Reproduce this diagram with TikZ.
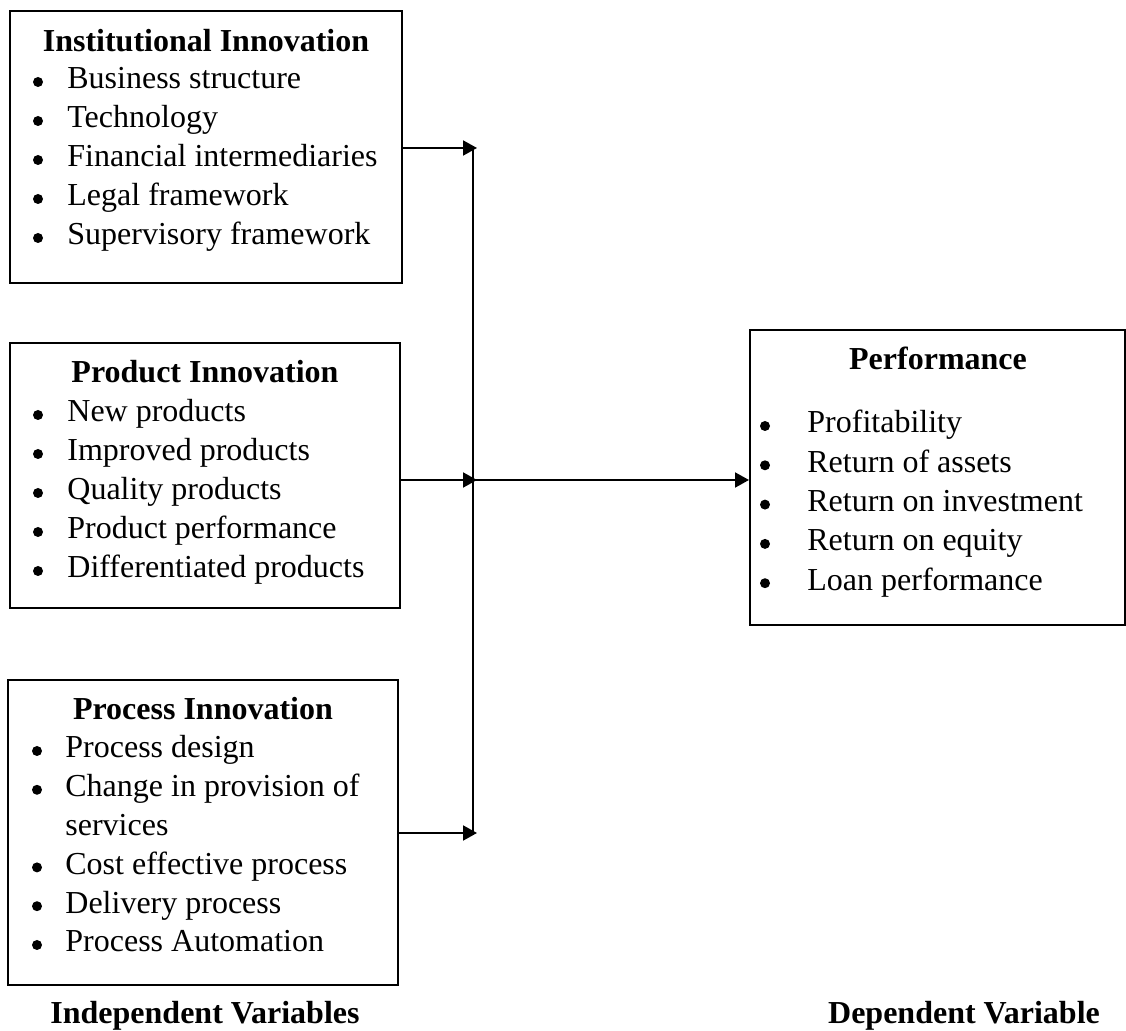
\documentclass[tikz,border=0pt]{standalone}
\usepackage{fontspec}
\setmainfont{Liberation Serif}
\usetikzlibrary{arrows.meta,fit}

\begin{document}
\begin{tikzpicture}[x=0.5pt,y=-0.5pt,font=\fontsize{16}{19.5}\selectfont,
    box/.style={draw,line width=1pt,inner sep=0pt},
    head/.style={anchor=base,font=\fontsize{16}{19.5}\selectfont\bfseries},
    item/.style={anchor=base west,inner sep=0pt},
    dot/.style={circle,fill,inner sep=0pt,minimum size=5pt},
    arr/.style={line width=1pt,-{Triangle[length=7pt,width=7.5pt]}}]
  \useasboundingbox (0,0) rectangle (1126,1031);

  % independent variables
  \node[box,fit={(10,11) (402,283)}] (inst) {};
  \node[head] (insth) at (206,52) {Institutional Innovation};
  \foreach \txt [count=\i from 0] in {Business structure,Technology,Financial intermediaries,Legal framework,Supervisory framework}{
    \node[dot] (instb\i) at (38,82+39*\i) {};
    \node[item] (inst\i) at (67,89+39*\i) {\txt};
  }

  \node[box,fit={(10,343) (400,608)}] (prod) {};
  \node[head] (prodh) at (205,383) {Product Innovation};
  \foreach \txt [count=\i from 0] in {New products,Improved products,Quality products,Product performance,Differentiated products}{
    \node[dot] (prodb\i) at (38,415+39*\i) {};
    \node[item] (prod\i) at (67,422+39*\i) {\txt};
  }

  \node[box,fit={(8,680) (398,985)}] (proc) {};
  \node[head] (proch) at (203,720) {Process Innovation};
  \foreach \i in {0,1,3,4,5}
    \node[dot] (procb\i) at (37,751+38.8*\i) {};
  \foreach \txt [count=\i from 0] in {Process design,Change in provision of,services,Cost effective process,Delivery process,Process Automation}
    \node[item] (proc\i) at (65,758+38.8*\i) {\txt};

  % dependent variable
  \node[box,fit={(750,330) (1125,625)}] (perf) {};
  \node[head] (perfh) at (938,370) {Performance};
  \foreach \txt [count=\i from 0] in {Profitability,Return of assets,Return on investment,Return on equity,Loan performance}{
    \node[dot] (perfb\i) at (765,426+39.3*\i) {};
    \node[item] (perf\i) at (807,433+39.3*\i) {\txt};
  }

  % connectors
  \coordinate (j1) at (477,148);
  \coordinate (j2) at (477,480);
  \coordinate (j3) at (477,833);
  \coordinate (bus1) at (473,148);
  \coordinate (bus2) at (473,480);
  \coordinate (bus3) at (473,833);
  \draw[arr] (inst.east |- j1) -- (j1);
  \draw[arr] (prod.east |- j2) -- (j2);
  \draw[arr] (proc.east |- j3) -- (j3);
  \draw[line width=1pt] (bus1) -- (bus3);
  \draw[arr] (bus2) -- (perf.west |- bus2);

  \node[head] (indep) at (205,1024) {Independent Variables};
  \node[head] (dep) at (964,1024) {Dependent Variable};
\end{tikzpicture}
\end{document}
